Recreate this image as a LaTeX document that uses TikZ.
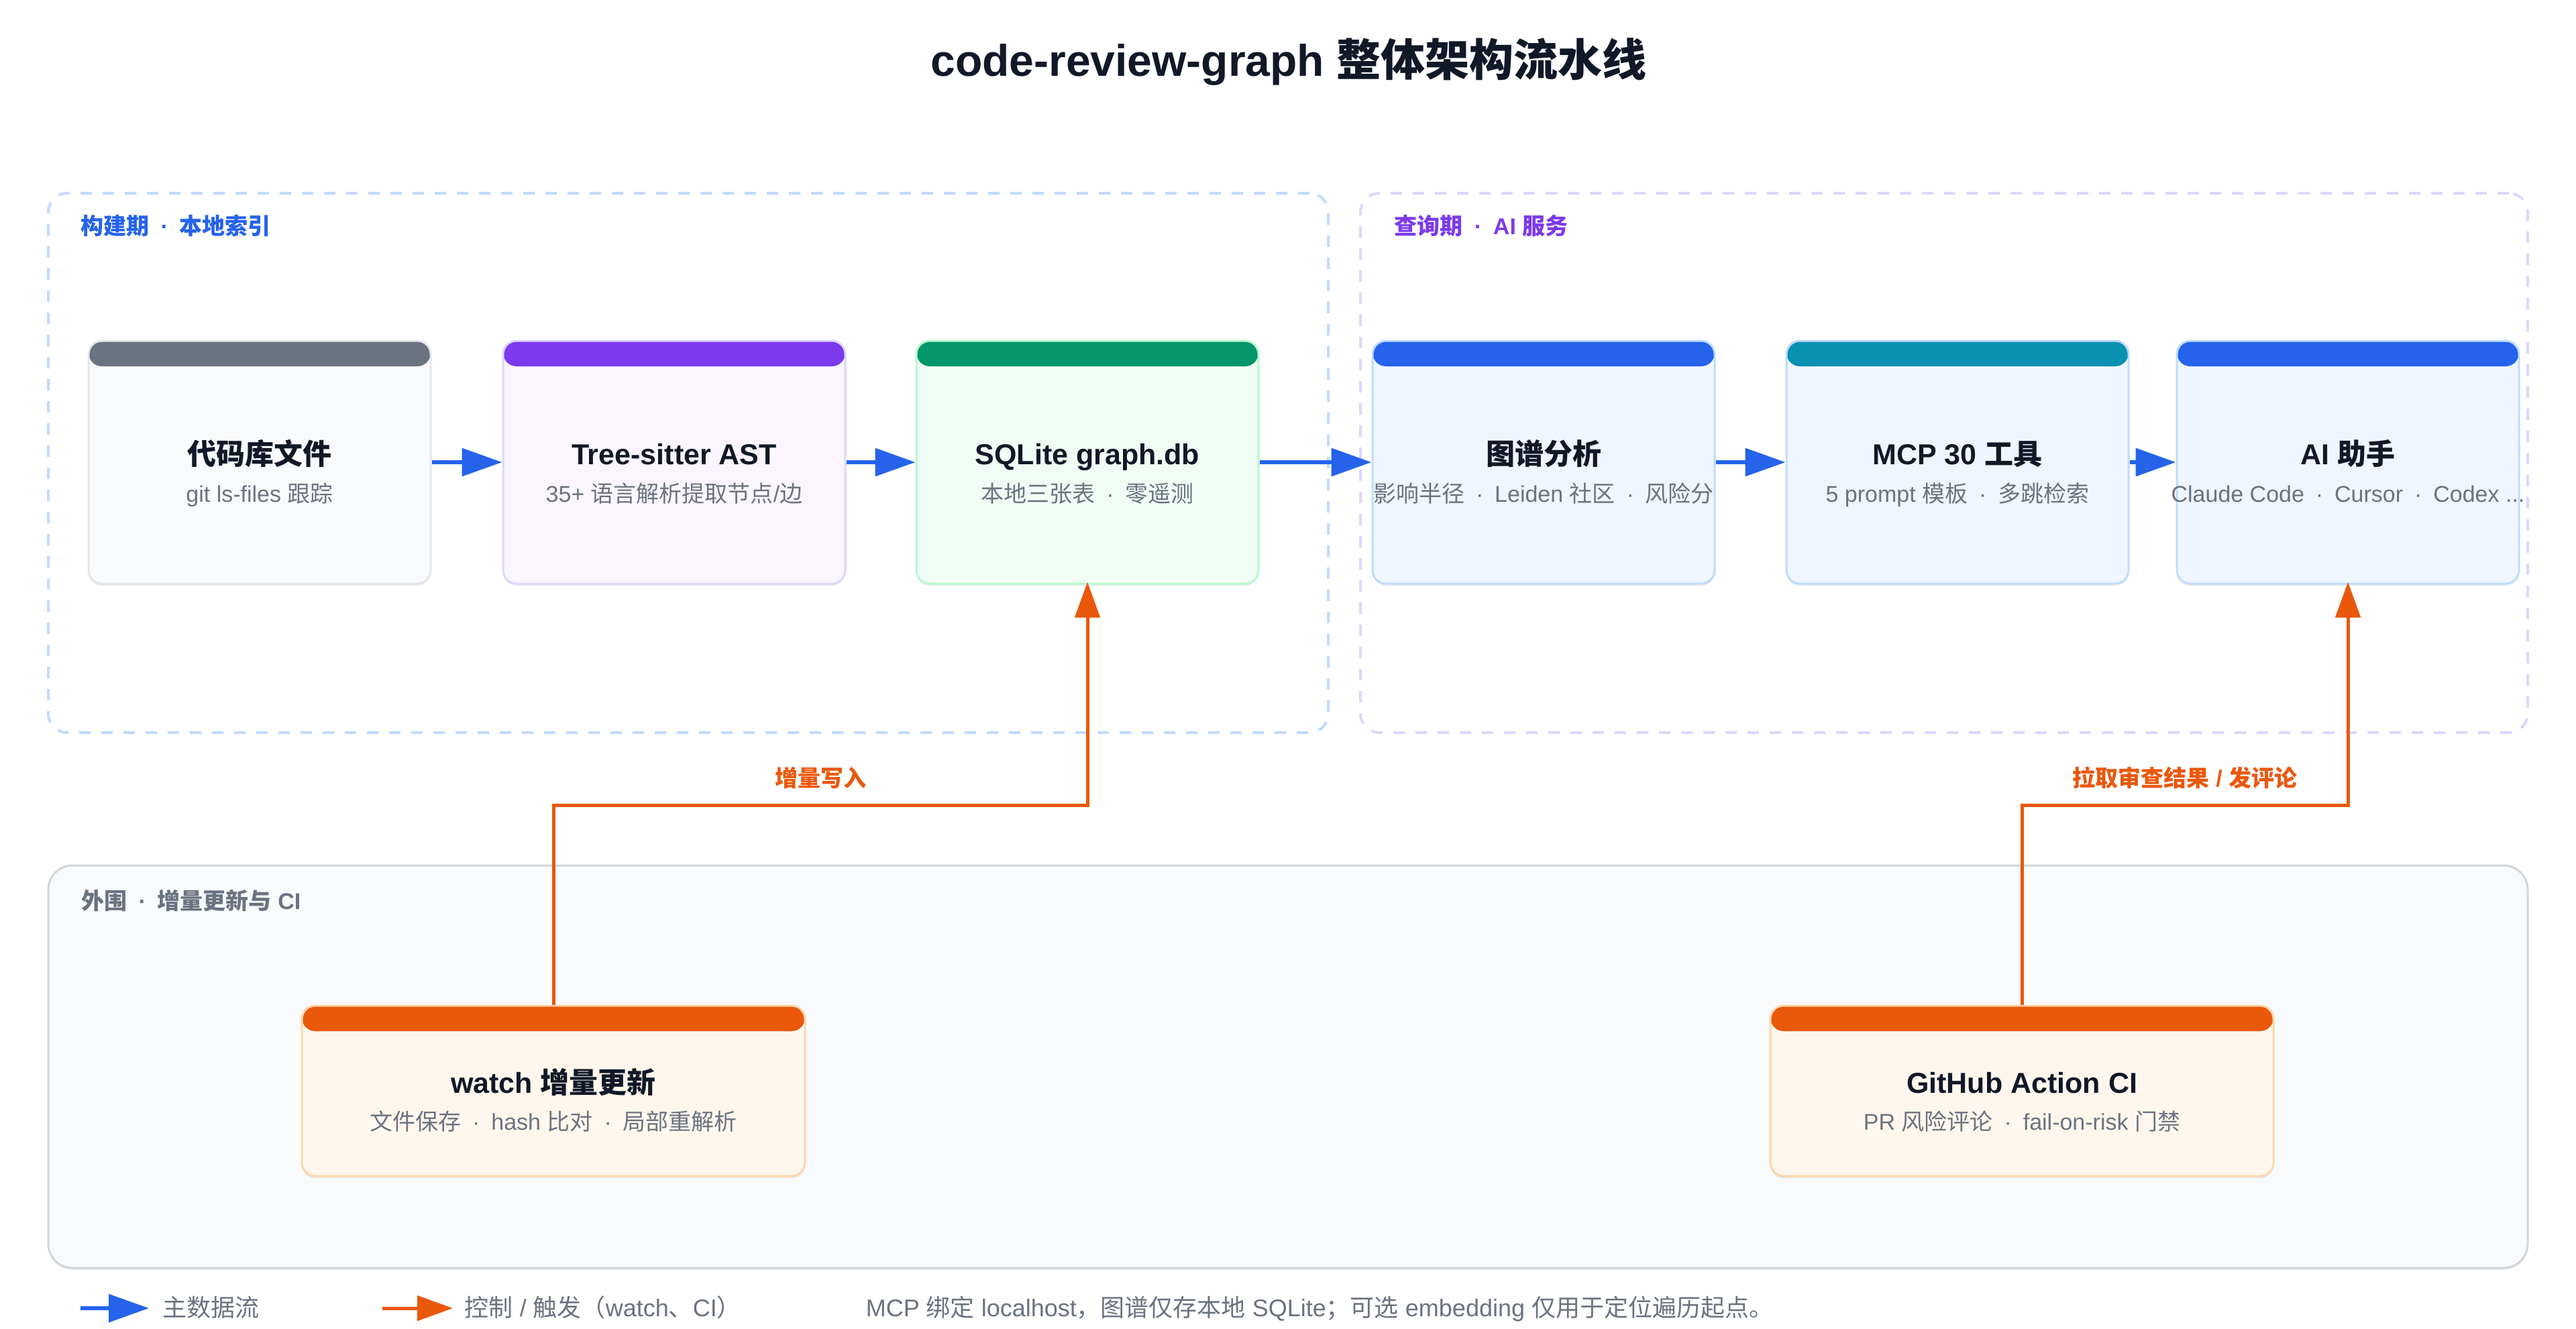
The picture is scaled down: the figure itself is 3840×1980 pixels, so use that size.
\documentclass[tikz,border=0pt]{standalone}
\usepackage{fontspec}
\setmainfont{Liberation Sans}
\newfontfamily\cjkf{Noto Sans CJK SC}
\usetikzlibrary{arrows.meta,shadows}

% automatic switch to the CJK family for CJK characters
\XeTeXinterchartokenstate=1
\newXeTeXintercharclass\cjkcls
\newcount\cjkn
\def\setcjkrange#1#2{\cjkn=#1\relax\loop\XeTeXcharclass\cjkn=\cjkcls\advance\cjkn by 1\relax\ifnum\cjkn<#2\repeat}
\setcjkrange{"4E00}{"A000}
\setcjkrange{"3000}{"3040}
\setcjkrange{"FF00}{"FFF0}
\XeTeXinterchartoks 0 \cjkcls = {\cjkf}
\XeTeXinterchartoks 4095 \cjkcls = {\cjkf}
\XeTeXinterchartoks \cjkcls 0 = {\rmfamily}
\XeTeXinterchartoks \cjkcls 4095 = {\rmfamily}

\newcommand\md{\ \kern.22em·\kern.22em\ }

\definecolor{ink}{HTML}{111827}
\definecolor{subc}{HTML}{6B7280}
\definecolor{blueA}{HTML}{2563EB}
\definecolor{purpleA}{HTML}{7C3AED}
\definecolor{greenA}{HTML}{059669}
\definecolor{cyanA}{HTML}{0891B2}
\definecolor{grayA}{HTML}{6B7280}
\definecolor{orangeA}{HTML}{EA580C}
\definecolor{zoneBlue}{HTML}{BFDBFE}
\definecolor{zonePurple}{HTML}{DDD6FE}
\definecolor{zoneGray}{HTML}{D1D5DB}
\definecolor{zoneFill}{HTML}{F8FAFC}
\definecolor{grayFill}{HTML}{F9FAFB}
\definecolor{grayBorder}{HTML}{E5E7EB}
\definecolor{purpleFill}{HTML}{FAF5FF}
\definecolor{purpleBorder}{HTML}{DDD6FE}
\definecolor{greenFill}{HTML}{F0FDF4}
\definecolor{greenBorder}{HTML}{BBF7D0}
\definecolor{blueFill}{HTML}{EFF6FF}
\definecolor{blueBorder}{HTML}{BFDBFE}
\definecolor{orangeFill}{HTML}{FFF7ED}
\definecolor{orangeBorder}{HTML}{FED7AA}

\tikzset{
  card/.style n args={3}{draw=#2, fill=#3, line width=0.75pt, rounded corners=5pt, inner sep=0pt,
    drop shadow={shadow xshift=0pt, shadow yshift=-0.8pt, opacity=0.08, fill=black},
    path picture={\fill[#1] ([yshift=2pt]path picture bounding box.north west) rectangle ([yshift=-9.5pt]path picture bounding box.north east);}},
  topcard/.style={minimum width=127.5pt, minimum height=90.5pt},
  botcard/.style={minimum width=187.5pt, minimum height=63.5pt},
  zone/.style={draw=#1, dash pattern=on 4.25pt off 4pt, line width=1pt, rounded corners=7pt, inner sep=0pt},
  ttl/.style={anchor=base, font=\bfseries\fontsize{10.75pt}{12pt}\selectfont, text=ink, inner sep=0pt},
  subt/.style={anchor=base, font=\fontsize{8.5pt}{10pt}\selectfont, text=subc, inner sep=0pt},
  zlabel/.style={anchor=base west, font=\bfseries\fontsize{8.5pt}{10pt}\selectfont, inner sep=0pt},
  elabel/.style={anchor=base, font=\bfseries\fontsize{8.5pt}{10pt}\selectfont, text=orangeA, inner sep=0pt},
  legendtext/.style={anchor=base west, font=\fontsize{9pt}{11pt}\selectfont, text=subc, inner sep=0pt},
  flow/.style={draw=blueA, line width=1.5pt, -{Triangle[length=15pt,width=10.25pt]}},
  ctrl/.style={draw=orangeA, line width=1.25pt, miter limit=10, -{Triangle[length=13.25pt,width=9.25pt]}},
}

\begin{document}
\begin{tikzpicture}[x=0.25pt,y=-0.25pt]
\useasboundingbox[fill=white] (0,0) rectangle (3840,1980);

% title
\node[anchor=base, inner sep=0pt, font=\bfseries\fontsize{16.5pt}{20pt}\selectfont, text=ink] (title) at (1921,114) {code-review-graph 整体架构流水线};

% zones
\node[zone=zoneBlue, minimum width=477pt, minimum height=201pt] (z1) at (1026,690) {};
\node[zone=zonePurple, minimum width=435pt, minimum height=201pt] (z2) at (2898,690) {};
\node[draw=zoneGray, fill=zoneFill, line width=0.75pt, rounded corners=9pt, inner sep=0pt,
      drop shadow={shadow xshift=0pt, shadow yshift=-0.8pt, opacity=0.06, fill=black},
      minimum width=924pt, minimum height=150pt] (z3) at (1920,1590) {};

\node[zlabel, text=blueA] (z1l) at (120,349) {构建期\md 本地索引};
\node[zlabel, text=purpleA] (z2l) at (2078,349) {查询期\md AI 服务};
\node[zlabel, text=grayA] (z3l) at (121,1355) {外围\md 增量更新与 CI};

% cards (top row)
\node[card={grayA}{grayBorder}{grayFill}, topcard] (b1) at (387,689) {};
\node[card={purpleA}{purpleBorder}{purpleFill}, topcard] (b2) at (1005,689) {};
\node[card={greenA}{greenBorder}{greenFill}, topcard] (b3) at (1621,689) {};
\node[card={blueA}{blueBorder}{blueFill}, topcard] (b4) at (2301,689) {};
\node[card={cyanA}{blueBorder}{blueFill}, topcard] (b5) at (2918,689) {};
\node[card={blueA}{blueBorder}{blueFill}, topcard] (b6) at (3500,689) {};

\node[ttl] (t1) at (387,692) {代码库文件};
\node[subt] (s1) at (387,748) {git ls-files 跟踪};
\node[ttl] (t2) at (1005,692) {Tree-sitter AST};
\node[subt] (s2) at (1005,748) {35+ 语言解析提取节点/边};
\node[ttl] (t3) at (1621,692) {SQLite graph.db};
\node[subt] (s3) at (1621,748) {本地三张表\md 零遥测};
\node[ttl] (t4) at (2301,692) {图谱分析};
\node[subt] (s4) at (2301,748) {影响半径\md Leiden 社区\md 风险分};
\node[ttl] (t5) at (2918,692) {MCP 30 工具};
\node[subt] (s5) at (2918,748) {5 prompt 模板\md 多跳检索};
\node[ttl] (t6) at (3500,692) {AI 助手};
\node[subt] (s6) at (3500,748) {Claude Code\md Cursor\md Codex ...};

% cards (bottom row)
\node[card={orangeA}{orangeBorder}{orangeFill}, botcard] (w) at (825,1626) {};
\node[card={orangeA}{orangeBorder}{orangeFill}, botcard] (g) at (3014,1626) {};
\node[ttl] (tw) at (825,1629) {watch 增量更新};
\node[subt] (sw) at (825,1684) {文件保存\md hash 比对\md 局部重解析};
\node[ttl] (tg) at (3014,1629) {GitHub Action CI};
\node[subt] (sg) at (3014,1684) {PR 风险评论\md fail-on-risk 门禁};

% main data flow
\draw[flow] (b1.east) -- (b2.west);
\draw[flow] (b2.east) -- (b3.west);
\draw[flow] (b3.east) -- (b4.west);
\draw[flow] (b4.east) -- (b5.west);
\draw[flow] (b5.east) -- (b6.west);

% control connectors
\coordinate (m1) at (1223,1200);
\coordinate (m2) at (3257,1200);
\draw[ctrl, shorten >=-1pt] (w.north) |- (m1) -| (b3.south);
\draw[ctrl, shorten >=-1pt] (g.north) |- (m2) -| (b6.south);
\node[elabel] (e1) at (1223,1172) {增量写入};
\node[elabel] (e2) at (3257,1172) {拉取审查结果 / 发评论};

% legend
\coordinate (la1) at (120,1950);
\coordinate (la2) at (222,1950);
\coordinate (lb1) at (570,1950);
\coordinate (lb2) at (675,1950);
\draw[flow] (la1) -- (la2);
\draw[ctrl] (lb1) -- (lb2);
\node[legendtext] (lt1) at (242,1962) {主数据流};
\node[legendtext] (lt2) at (692,1962) {控制 / 触发（watch、CI）};
\node[legendtext] (lt3) at (1290,1962) {MCP 绑定 localhost，图谱仅存本地 SQLite；可选 embedding 仅用于定位遍历起点。};
\end{tikzpicture}
\end{document}
